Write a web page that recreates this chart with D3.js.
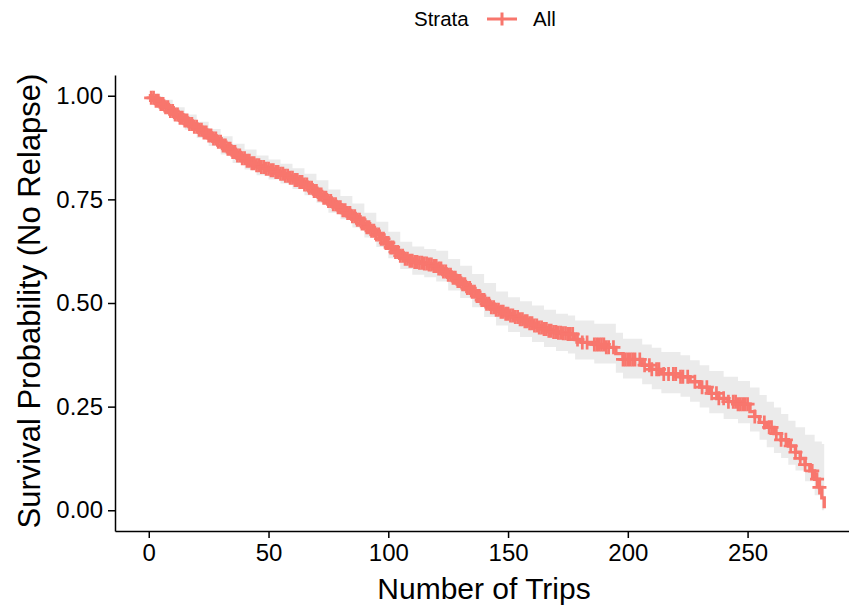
<!DOCTYPE html>
<html>
<head>
<meta charset="utf-8">
<script src="https://cdn.jsdelivr.net/npm/d3@7"></script>
<style>
  body { margin: 0; background: #fff; }
  text { font-family: "Liberation Sans", Arial, sans-serif; fill: #000; }
  .axis path, .axis line { stroke: #000; stroke-width: 1.5; }
  .axis text { font-size: 24px; }
  .x-title { font-size: 30px; }
  .y-title { font-size: 31px; }
  .legend text { font-size: 20.5px; }
</style>
</head>
<body>
<div id="chart"></div>
<script>
// survival curve knots (trips, probability)
let kmTimes = [0, 1, 3, 5, 7, 9, 11, 13, 15, 17, 19, 21, 23, 25, 27, 29, 31, 33, 35, 37, 39,
    41, 43, 45, 47, 49, 51, 53, 55, 57, 59, 61, 63, 65, 67, 69, 71, 73, 75, 77, 79,
    81, 83, 85, 87, 89, 91, 93, 95, 97, 99, 101, 103, 105, 107, 109, 111, 113, 115, 117, 119,
    121, 123, 125, 127, 129, 131, 133, 135, 137, 139, 141, 143, 145, 147, 149, 151, 153, 155, 157, 159,
    161, 163, 165, 167, 169, 171, 173, 175, 178, 181, 186, 191, 195, 198, 206, 210, 214, 222, 226, 230,
    234, 238, 242, 246, 251, 253, 255, 258, 261, 264, 267, 270, 272, 274, 276, 278, 280, 281, 282];
let kmSurv = [1.000, 0.995, 0.988, 0.980, 0.972, 0.963, 0.955, 0.947, 0.940, 0.932, 0.925, 0.918, 0.911, 0.904, 0.897, 0.889, 0.880, 0.872, 0.864, 0.856, 0.849,
    0.843, 0.837, 0.832, 0.828, 0.824, 0.820, 0.816, 0.812, 0.807, 0.802, 0.797, 0.792, 0.786, 0.778, 0.770, 0.762, 0.754, 0.746, 0.738, 0.731,
    0.724, 0.717, 0.709, 0.701, 0.692, 0.683, 0.674, 0.665, 0.655, 0.645, 0.634, 0.623, 0.614, 0.607, 0.602, 0.599, 0.597, 0.595, 0.593, 0.589,
    0.583, 0.576, 0.568, 0.561, 0.553, 0.545, 0.536, 0.527, 0.517, 0.507, 0.498, 0.490, 0.484, 0.479, 0.474, 0.470, 0.466, 0.461, 0.456, 0.451,
    0.446, 0.441, 0.437, 0.433, 0.430, 0.428, 0.427, 0.425, 0.412, 0.405, 0.400, 0.393, 0.378, 0.364, 0.350, 0.340, 0.329, 0.322, 0.310, 0.297,
    0.282, 0.270, 0.262, 0.256, 0.238, 0.226, 0.212, 0.200, 0.185, 0.170, 0.155, 0.140, 0.125, 0.110, 0.095, 0.075, 0.055, 0.030, 0.005];

// confidence band
let bandTimes = [0, 3, 6, 10, 15, 20, 25, 30, 35, 40, 45, 50, 55, 60, 65, 70, 75, 80, 85, 90,
    95, 100, 105, 110, 115, 120, 125, 130, 135, 140, 145, 150, 155, 160, 165, 170, 175, 178,
    186, 195, 198, 206, 210, 214, 222, 226, 230, 234, 240, 246, 251, 255, 258, 261, 264, 267,
    270, 274, 278, 281, 282];
let bandLower = [1.000, 0.978, 0.962, 0.940, 0.918, 0.898, 0.879, 0.858, 0.838, 0.822, 0.808, 0.798, 0.788, 0.775, 0.760, 0.742, 0.718, 0.702, 0.682, 0.658,
    0.635, 0.608, 0.582, 0.568, 0.562, 0.552, 0.530, 0.512, 0.490, 0.466, 0.446, 0.430, 0.418, 0.406, 0.394, 0.384, 0.378, 0.364,
    0.354, 0.332, 0.318, 0.304, 0.292, 0.282, 0.274, 0.262, 0.248, 0.234, 0.220, 0.210, 0.190, 0.170, 0.152, 0.138, 0.126, 0.110,
    0.096, 0.070, 0.036, 0.000, 0.000];
let bandUpper = [1.000, 0.998, 0.990, 0.972, 0.955, 0.937, 0.920, 0.902, 0.884, 0.870, 0.856, 0.846, 0.836, 0.825, 0.812, 0.796, 0.774, 0.758, 0.740, 0.718,
    0.696, 0.672, 0.648, 0.636, 0.630, 0.626, 0.606, 0.590, 0.570, 0.548, 0.528, 0.514, 0.504, 0.494, 0.484, 0.474, 0.470, 0.458,
    0.450, 0.428, 0.414, 0.400, 0.392, 0.382, 0.374, 0.362, 0.350, 0.336, 0.322, 0.312, 0.296, 0.278, 0.262, 0.248, 0.232, 0.216,
    0.200, 0.182, 0.166, 0.160, 0.160];

// censored observations (trips)
let censorTimes = [1, 2, 3, 4, 5, 6, 7, 8, 9, 10, 11, 12, 13, 14, 15, 16, 17, 18, 19, 20,
    21, 22, 23, 24, 25, 26, 27, 28, 29, 30, 31, 32, 33, 34, 35, 36, 37, 38, 39, 40,
    41, 42, 43, 44, 45, 46, 47, 48, 49, 50, 51, 52, 53, 54, 55, 56, 57, 58, 59, 60,
    61, 62, 63, 64, 65, 66, 67, 68, 69, 70, 71, 72, 73, 74, 75, 76, 77, 78, 79, 80,
    81, 82, 83, 84, 85, 86, 87, 88, 89, 90, 91, 92, 93, 94, 95, 96, 97, 98, 99, 100,
    101, 102, 103, 104, 105, 106, 107, 108, 109, 110, 111, 112, 113, 114, 115, 116, 117, 118, 119, 120,
    121, 122, 123, 124, 125, 126, 127, 128, 129, 130, 131, 132, 133, 134, 135, 136, 137, 138, 139, 140,
    141, 142, 143, 144, 145, 146, 147, 148, 149, 150, 151, 152, 153, 154, 155, 156, 157, 158, 159, 160,
    161, 162, 163, 164, 165, 166, 167, 168, 169, 170, 171, 172, 173, 174, 175, 176, 177,
    179, 181, 183, 186, 187, 188, 189, 190, 191, 192, 194, 198, 199, 200, 201, 202, 203, 205, 207,
    209, 210, 212, 213, 215, 217, 219, 220, 222, 223, 225, 228, 231, 233, 235, 237, 238, 240, 242,
    244, 245, 246, 247, 248, 249, 250, 253, 257, 259, 260, 262, 264, 266, 268, 270, 272, 274, 277, 279, 280];

let xTicks = [0, 50, 100, 150, 200, 250];
let yTicks = [0, 0.25, 0.5, 0.75, 1];

let totalWidth = 849, totalHeight = 606;
let red = "#F8766D";

let svg = d3.select("#chart").append("svg")
    .attr("width", totalWidth)
    .attr("height", totalHeight);

// ggplot style 5% expansion
let xScale = d3.scaleLinear().domain([-14.1, 296.1]).range([115, 858]);
let yScale = d3.scaleLinear().domain([-0.05, 1.05]).range([531, 75]);

let km = kmTimes.map((t, i) => ({t: t, s: kmSurv[i]}));
let band = bandTimes.map((t, i) => ({t: t, lo: bandLower[i], hi: bandUpper[i]}));

// band
let area = d3.area()
    .curve(d3.curveStepAfter)
    .x(d => xScale(d.t))
    .y0(d => yScale(d.lo))
    .y1(d => yScale(d.hi));

svg.append("path")
    .datum(band)
    .attr("fill", "#ebebeb")
    .attr("d", area);

// step line
let line = d3.line()
    .curve(d3.curveStepAfter)
    .x(d => xScale(d.t))
    .y(d => yScale(d.s));

svg.append("path")
    .datum(km)
    .attr("fill", "none")
    .attr("stroke", red)
    .attr("stroke-width", 3.4)
    .attr("d", line);

// censor marks sit on the step value at that time
let bisect = d3.bisector(d => d.t).right;
function survAt(t) {
    let i = bisect(km, t) - 1;
    return km[Math.max(0, i)].s;
}

let arm = 7;
svg.append("g")
    .selectAll("path")
    .data(censorTimes)
    .enter()
    .append("path")
    .attr("transform", d => "translate(" + xScale(d) + "," + yScale(survAt(d)) + ")")
    .attr("d", `M${-arm},0H${arm}M0,${-arm}V${arm}`)
    .attr("stroke", red)
    .attr("stroke-width", 2.7)
    .attr("fill", "none");

// axes
let xAxis = d3.axisBottom(xScale).tickValues(xTicks).tickSize(7).tickPadding(6).tickSizeOuter(0);
svg.append("g")
    .attr("class", "axis x-axis")
    .attr("transform", "translate(0,531)")
    .call(xAxis);

let yAxis = d3.axisLeft(yScale).tickValues(yTicks).tickFormat(d3.format(".2f")).tickSize(7).tickPadding(5).tickSizeOuter(0);
svg.append("g")
    .attr("class", "axis y-axis")
    .attr("transform", "translate(115,0)")
    .call(yAxis);

svg.append("text")
    .attr("class", "x-title")
    .attr("x", 484)
    .attr("y", 599)
    .attr("text-anchor", "middle")
    .text("Number of Trips");

svg.append("text")
    .attr("class", "y-title")
    .attr("transform", "translate(40,301) rotate(-90)")
    .attr("text-anchor", "middle")
    .text("Survival Probability (No Relapse)");

// legend
let legend = svg.append("g").attr("class", "legend");
legend.append("text").attr("x", 414).attr("y", 26).text("Strata");
legend.append("path")
    .attr("d", "M487,19H517M502,12.5V25.5")
    .attr("stroke", red)
    .attr("stroke-width", 3)
    .attr("fill", "none");
legend.append("text").attr("x", 533).attr("y", 26).text("All");
</script>
</body>
</html>
